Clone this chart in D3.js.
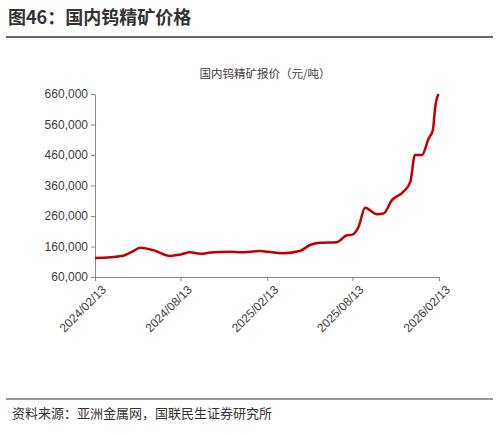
<!DOCTYPE html>
<html><head><meta charset="UTF-8">
<script src="https://d3js.org/d3.v7.min.js"></script>
<style>body{margin:0;background:#fff;font-family:"Noto Sans CJK SC","Noto Sans",sans-serif;}</style>
</head><body><svg id="c" width="499" height="433"></svg>
<script>
const dates = ["2024-02-13","2024-04-13","2024-05-01","2024-05-19","2024-06-16","2024-07-22","2024-08-13","2024-09-02","2024-09-24","2024-10-15","2024-11-26","2024-12-18","2025-01-29","2025-02-13","2025-03-19","2025-04-23","2025-05-15","2025-06-05","2025-07-11","2025-08-01","2025-08-13","2025-08-26","2025-09-09","2025-10-04","2025-10-18","2025-11-05","2025-11-29","2025-12-14","2025-12-24","2026-01-08","2026-01-22","2026-01-31","2026-02-05","2026-02-12"];
const prices = [122000,130000,142000,156000,148000,129000,134000,141000,136000,140000,143000,141000,145000,143000,138000,145000,165000,172000,174000,197000,199000,224000,287000,266000,268000,312000,339000,372000,460000,460000,514000,542000,618000,660000];
const xTicks = ["2024/02/13","2024/08/13","2025/02/13","2025/08/13","2026/02/13"];
const yTicks = [60000,160000,260000,360000,460000,560000,660000];

const svg = d3.select("#c");
const parse = d3.timeParse("%Y-%m-%d"), parseT = d3.timeParse("%Y/%m/%d");
const x = d3.scaleTime().domain([parseT("2024/02/13"), parseT("2026/02/13")]).range([95, 439]);
const y = d3.scaleLinear().domain([60000, 660000]).range([277, 94]);

svg.append("text").attr("x", 8).attr("y", 24).attr("font-size", 18).attr("font-weight", "bold").attr("fill", "#333").text("图46：国内钨精矿价格");
svg.append("line").attr("x1", 6).attr("x2", 493).attr("y1", 37).attr("y2", 37).attr("stroke", "#333").attr("stroke-width", 1.5);
svg.append("text").attr("x", 265).attr("y", 78).attr("text-anchor", "middle").attr("font-size", 11.5).attr("fill", "#404040").text("国内钨精矿报价（元/吨）");

const yAx = svg.append("g").attr("transform", "translate(95,0)")
  .call(d3.axisLeft(y).tickValues(yTicks).tickSize(4).tickFormat(d3.format(",")));
yAx.selectAll("text").attr("font-size", 12).attr("fill", "#404040").attr("font-family", "Liberation Sans, Arial, sans-serif");
const xAx = svg.append("g").attr("transform", "translate(0,277)")
  .call(d3.axisBottom(x).tickValues(xTicks.map(parseT)).tickSize(4).tickFormat(d3.timeFormat("%Y/%m/%d")));
xAx.selectAll("text").attr("font-size", 12).attr("fill", "#404040").attr("font-family", "Liberation Sans, Arial, sans-serif")
  .attr("text-anchor", "end").attr("transform", "translate(4,6) rotate(-45)").attr("dy", "0.3em");
svg.selectAll(".domain, .tick line").attr("stroke", "#888");

svg.append("path").datum(dates.map((d, i) => [parse(d), prices[i]]))
  .attr("fill", "none").attr("stroke", "#c00000").attr("stroke-width", 2.5).attr("stroke-linejoin", "round")
  .attr("d", d3.line().x(d => x(d[0])).y(d => y(d[1])).curve(d3.curveMonotoneX));

svg.append("line").attr("x1", 6).attr("x2", 493).attr("y1", 399).attr("y2", 399).attr("stroke", "#333").attr("stroke-width", 1);
svg.append("text").attr("x", 12).attr("y", 418).attr("font-size", 13).attr("fill", "#333").text("资料来源：亚洲金属网，国联民生证券研究所");
</script></body></html>
